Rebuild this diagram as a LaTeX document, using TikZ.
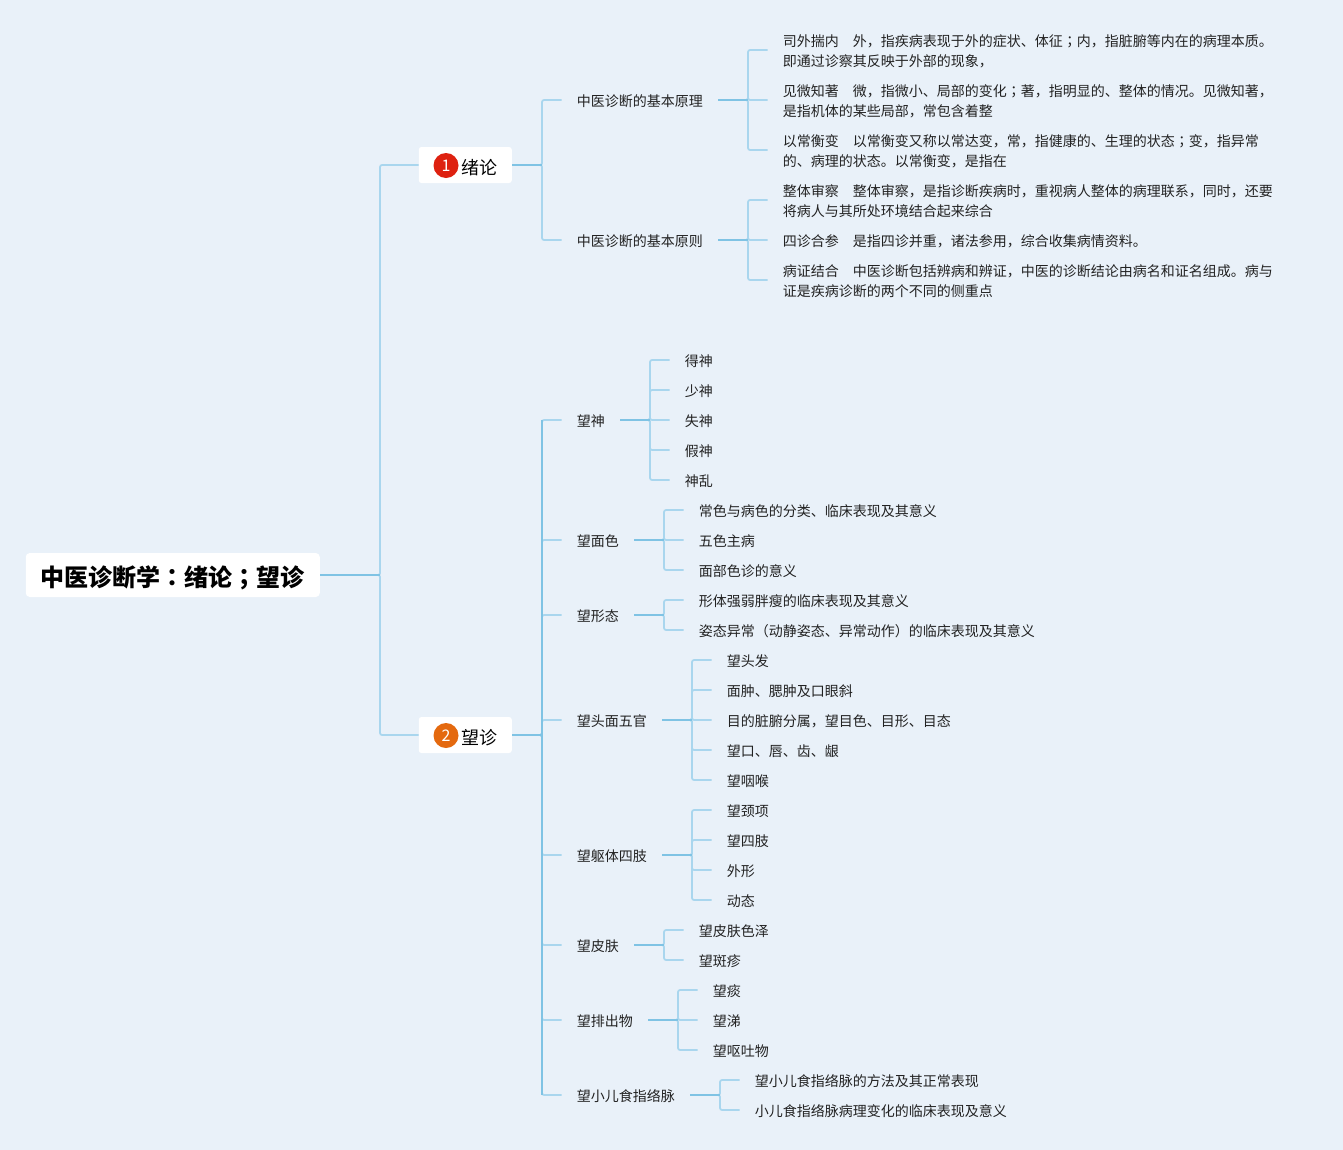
\documentclass[tikz,border=0pt]{standalone}
\usepackage{fontspec}
\setmainfont{Noto Sans CJK SC}
\newfontfamily\jpfont{Noto Sans CJK JP}
\definecolor{bgblue}{HTML}{E9F1F9}
\definecolor{twigblue}{HTML}{A9D6EE}
\definecolor{stemblue}{HTML}{7FC3E4}
\definecolor{inkgray}{HTML}{222222}
\definecolor{badgered}{HTML}{DE2110}
\definecolor{badgeorange}{HTML}{E4690F}
\newcommand{\pu}[1]{{\jpfont #1}}
\newcommand{\lstrut}{\rule[-1.7pt]{0pt}{13pt}}
\tikzset{
  leaf/.style={anchor=west,inner xsep=11.25pt,inner ysep=0pt,align=left,text=inkgray,
    font=\fontsize{10.5}{15}\selectfont},
  topicbox/.style={anchor=west,fill=white,rounded corners=2pt,inner xsep=11.25pt,
    minimum height=27pt,text=black,text height=13.6pt,text depth=0pt,font=\fontsize{13.5}{16}\selectfont,
    execute at begin node=\hspace*{21pt},execute at end node=\hspace*{-.75pt}},
  badge/.style={circle,inner sep=0pt,minimum size=18.75pt,text=white,font=\fontsize{12}{14}\selectfont},
  twig/.style={draw=twigblue,line width=1.3pt,rounded corners=1.5pt},
  stem/.style={draw=stemblue,line width=1.3pt}
}
% parent, x of the children, y/text of the children
\newcommand{\twigs}[3]{%
  \foreach \yy/\txt [count=\i] in {#3}{
    \node[leaf] (#1\i) at (#2,\yy) {\lstrut\txt};
    \draw[twig] (#1.east) -- ++(30,0) |- (#1\i.west);
  }
  \draw[stem] (#1.east) -- ++(30,0);
}
\begin{document}
\begin{tikzpicture}[x=.75pt,y=-.75pt]
  \path[fill=bgblue,use as bounding box] (.5,0) rectangle (1343.5,1150);
  % root and the two topics
  \node[anchor=west,fill=white,rounded corners=3pt,inner xsep=11.25pt,minimum height=33pt,text=black,
    text height=17pt,text depth=0pt,font=\fontsize{18}{22}\bfseries] (root) at (26,575) {中医诊断学\pu{：}绪论\pu{；}望诊};
  \node[topicbox] (xulun) at (419,165) {绪论};
  \node[topicbox] (wangzhen) at (419,735) {望诊};
  \node[badge,fill=badgered] (badge1) at (446.5,165.5) {1};
  \node[badge,fill=badgeorange] (badge2) at (446.5,735.5) {2};
  \draw[twig] (root.east) -- ++(60,0) |- (xulun.west);
  \draw[twig] (root.east) -- ++(60,0) |- (wangzhen.west);
  \draw[stem] (root.east) -- ++(60,0);
  % first topic
  \twigs{xulun}{562}{100/中医诊断的基本原理,240/中医诊断的基本原则}
  \twigs{xulun1}{768}{
    50/{司外揣内　外，指疾病表现于外的症状、体征\pu{；}内，指脏腑等内在的病理本质。\\即通过诊察其反映于外部的现象，},
    100/{见微知著　微，指微小、局部的变化\pu{；}著，指明显的、整体的情况。见微知著，\\是指机体的某些局部，常包含着整},
    150/{以常衡变　以常衡变又称以常达变，常，指健康的、生理的状态\pu{；}变，指异常\\的、病理的状态。以常衡变，是指在}}
  \twigs{xulun2}{768}{
    200/{整体审察　整体审察，是指诊断疾病时，重视病人整体的病理联系，同时，还要\\将病人与其所处环境结合起来综合},
    240/四诊合参　是指四诊并重，诸法参用，综合收集病情资料。,
    280/{病证结合　中医诊断包括辨病和辨证，中医的诊断结论由病名和证名组成。病与\\证是疾病诊断的两个不同的侧重点}}
  % second topic
  \twigs{wangzhen}{562}{420/望神,540/望面色,615/望形态,720/望头面五官,855/望躯体四肢,945/望皮肤,1020/望排出物,1095/望小儿食指络脉}
  \path (wangzhen.east) -- ++(30,0) coordinate (trunk);
  \draw[stem] (trunk |- wangzhen1.west) -- (trunk |- wangzhen8.west);
  \twigs{wangzhen1}{670}{360/得神,390/少神,420/失神,450/假神,480/神乱}
  \twigs{wangzhen2}{684}{510/常色与病色的分类、临床表现及其意义,540/五色主病,570/面部色诊的意义}
  \twigs{wangzhen3}{684}{600/形体强弱胖瘦的临床表现及其意义,630/姿态异常（动静姿态、异常动作）的临床表现及其意义}
  \twigs{wangzhen4}{712}{660/望头发,690/面肿、腮肿及口眼斜,720/目的脏腑分属，望目色、目形、目态,750/望口、唇、齿、龈,780/望咽喉}
  \twigs{wangzhen5}{712}{810/望颈项,840/望四肢,870/外形,900/动态}
  \twigs{wangzhen6}{684}{930/望皮肤色泽,960/望斑疹}
  \twigs{wangzhen7}{698}{990/望痰,1020/望涕,1050/望呕吐物}
  \twigs{wangzhen8}{740}{1080/望小儿食指络脉的方法及其正常表现,1110/小儿食指络脉病理变化的临床表现及意义}
\end{tikzpicture}
\end{document}
